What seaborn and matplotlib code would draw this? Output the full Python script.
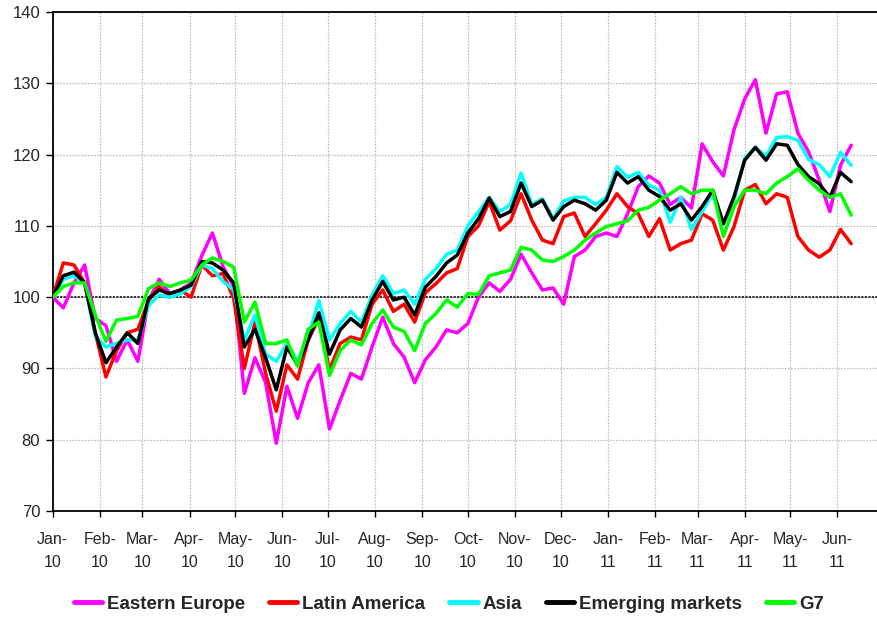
import pandas as pd
import numpy as np
import matplotlib
matplotlib.use("Agg")
import matplotlib.pyplot as plt
import matplotlib.dates as mdates
from matplotlib.ticker import FixedLocator
import seaborn as sns

# ---------------- data (weekly readings, index Jan-10 = 100) ----------------
start_date = "2010-01-01"
n_weeks = 76

eastern_europe = [100, 98.5, 102, 104.5, 97,
                  96, 91, 94, 91,
                  99.5, 102.5, 100.5, 101,
                  102, 105.8, 109, 104.3, 101.5,
                  86.5, 91.5, 88, 79.5,
                  87.5, 83, 88, 90.5,
                  81.5, 85.5, 89.3, 88.5, 93,
                  97.2, 93.5, 91.6, 88,
                  91.2, 93, 95.4, 95, 96.3,
                  100, 102, 100.8, 102.5,
                  106, 103.4, 101, 101.3,
                  99, 105.7, 106.6, 108.5, 109,
                  108.5, 111.7, 115.5, 117,
                  116, 113, 114, 112.5,
                  121.5, 119, 117, 123.5, 127.8,
                  130.5, 123, 128.5, 128.8,
                  123, 120.4, 116.4, 112,
                  118.5, 121.3]

latin_america = [100, 104.8, 104.5, 102, 95,
                 88.8, 92.5, 95, 95.5,
                 99.5, 101.5, 100, 101,
                 100, 104.5, 103, 103.3, 99.8,
                 90, 96.5, 89.3, 84,
                 90.5, 88.5, 94, 97,
                 89.8, 93.5, 94.4, 94, 99,
                 101, 98, 99, 96.5,
                 100.6, 101.9, 103.4, 104, 108.5,
                 110, 113.4, 109.4, 110.7,
                 114.5, 110.8, 108, 107.5,
                 111.3, 111.8, 108.5, 110.3, 112.2,
                 114.5, 112.7, 111.7, 108.5,
                 111, 106.6, 107.5, 108,
                 111.7, 110.8, 106.6, 109.9, 115,
                 115.8, 113.1, 114.5, 114,
                 108.5, 106.6, 105.6, 106.6,
                 109.5, 107.5]

asia = [100, 102.5, 103, 102, 94.5,
        93, 93.5, 94, 94,
        98.8, 100.3, 100, 100.5,
        101.5, 104.5, 104, 102.2, 101,
        94, 97.5, 92, 91,
        93.5, 91, 94.5, 99.5,
        94, 96.3, 98, 96.5, 100.3,
        103, 100.5, 101, 99,
        102.5, 104, 106, 106.6, 110,
        112, 114, 112, 113,
        117.4, 113, 113.8, 111,
        113.5, 114, 114, 113, 114,
        118.3, 116.8, 117.5, 115.7,
        115, 110.5, 114, 109.5,
        112, 114.5, 110.3, 113.5, 119.5,
        121, 119.8, 122.4, 122.5,
        122, 119.3, 118.6, 116.9,
        120.3, 118.5]

emerging_markets = [100, 103, 103.5, 102, 95,
                    90.8, 93, 95, 93.5,
                    99.8, 101, 100.5, 101,
                    101.7, 105, 104.8, 103.8, 102,
                    93, 95.5, 91.5, 87,
                    93, 90.5, 94, 97.8,
                    92, 95.4, 97, 95.8, 99.6,
                    102.2, 99.6, 100, 97.5,
                    101.4, 102.9, 104.8, 105.9, 109,
                    111, 113.9, 111.3, 112,
                    116, 112.7, 113.6, 110.8,
                    112.7, 113.6, 113.1, 112.2, 113.6,
                    117.5, 116, 116.9, 115,
                    114.1, 112.2, 113.1, 110.8,
                    112.7, 115, 110.3, 114.1, 119.2,
                    121, 119.2, 121.5, 121.3,
                    118.6, 116.9, 115.9, 114,
                    117.5, 116.2]

g7 = [100, 101.5, 102, 102, 97.5,
      93.8, 96.8, 97, 97.3,
      101.2, 102, 101.5, 102,
      102.4, 104.5, 105.5, 105, 104.2,
      96.5, 99.3, 93.5, 93.5,
      94, 90.3, 95.5, 96.5,
      89, 92.5, 94, 93.3, 96.3,
      98.2, 95.8, 95.2, 92.5,
      96.3, 97.7, 99.6, 98.6, 100.5,
      100.4, 103, 103.4, 103.8,
      107, 106.6, 105.2, 105,
      105.7, 106.6, 108, 109, 109.9,
      110.3, 110.7, 112.2, 112.6,
      113.6, 114.5, 115.5, 114.5,
      115, 115, 108.5, 112.7, 115,
      115, 114.5, 116, 116.9,
      118, 116.4, 115, 114,
      114.5, 111.5]

series_names = ["Eastern Europe", "Latin America", "Asia", "Emerging markets", "G7"]
series_colors = ["#FF00FF", "#FF0000", "#00FFFF", "#000000", "#00FF00"]
month_labels = ["Jan-\n10", "Feb-\n10", "Mar-\n10", "Apr-\n10", "May-\n10", "Jun-\n10",
                "Jul-\n10", "Aug-\n10", "Sep-\n10", "Oct-\n10", "Nov-\n10", "Dec-\n10",
                "Jan-\n11", "Feb-\n11", "Mar-\n11", "Apr-\n11", "May-\n11", "Jun-\n11"]
y_ticks = [70, 80, 90, 100, 110, 120, 130, 140]

# ---------------- build long table ----------------
dates = pd.date_range(start_date, periods=n_weeks, freq="7D")
all_vals = [eastern_europe, latin_america, asia, emerging_markets, g7]
frames = [pd.DataFrame({"date": dates, "value": v, "series": n})
          for n, v in zip(series_names, all_vals)]
df = pd.concat(frames, ignore_index=True)

# ---------------- plot ----------------
sns.set_theme(style="white")
plt.rcParams["font.family"] = ["Liberation Sans", "DejaVu Sans"]

fig = plt.figure(figsize=(8.77, 6.17), dpi=100)
ax = fig.add_axes([0.0601, 0.1718, 0.9399, 0.8088])

sns.lineplot(data=df, x="date", y="value", hue="series", hue_order=series_names,
             palette=dict(zip(series_names, series_colors)), linewidth=2.5,
             ax=ax, legend=False, zorder=3)

ax.axhline(100, color="black", linewidth=1.1, linestyle=(0, (1.5, 0.8)), zorder=2)

month_starts = pd.date_range("2010-01-01", periods=len(month_labels), freq="MS")
ax.set_xlim(pd.Timestamp("2010-01-01"), pd.Timestamp("2010-01-01") + pd.Timedelta(days=542))
ax.set_ylim(70, 140)
ax.xaxis.set_major_locator(FixedLocator(mdates.date2num(month_starts)))
ax.set_xticklabels(month_labels)
ax.set_yticks(y_ticks)
ax.set_yticklabels([str(t) for t in y_ticks])

ax.grid(True, color="#c4c4c4", linestyle=(0, (1.5, 1)), linewidth=0.9, zorder=0)
ax.set_axisbelow(True)

for s in ["left", "bottom", "top"]:
    ax.spines[s].set_visible(True)
    ax.spines[s].set_color("black")
    ax.spines[s].set_linewidth(1.3)
ax.spines["right"].set_visible(False)

ax.tick_params(axis="y", direction="out", length=5, width=1, color="black",
               labelsize=12, pad=4, left=True)
ax.tick_params(axis="x", direction="out", length=4, width=1, color="black",
               labelsize=11.5, pad=11, bottom=True)
for lab in ax.get_xticklabels():
    lab.set_linespacing(1.7)

ax.set_xlabel("")
ax.set_ylabel("")

handles = [plt.Line2D([], [], color=c, linewidth=3.5) for c in series_colors]
leg = fig.legend(handles, series_names, loc="center", bbox_to_anchor=(0.512, 0.021),
                 ncol=5, frameon=False, handlelength=1.5, handletextpad=0.25,
                 columnspacing=1.3, prop={"weight": "bold", "size": 13.5})

fig.savefig("out.png", dpi=100)
